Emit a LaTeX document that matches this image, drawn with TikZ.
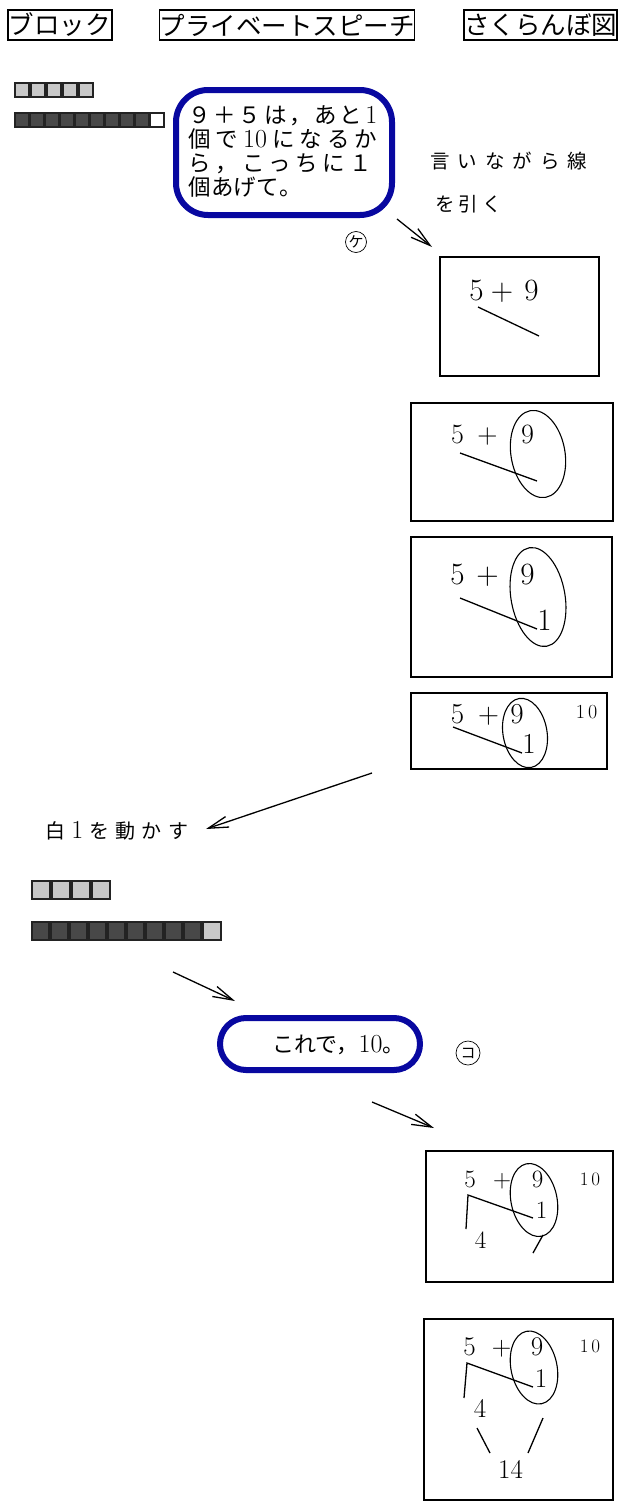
\documentclass[tikz,border=0pt]{standalone}
\usepackage{fontspec}
\newfontfamily\jp{Noto Sans CJK JP}
\usetikzlibrary{arrows.meta}
\definecolor{bblue}{RGB}{8,8,160}
\definecolor{lsq}{RGB}{200,200,200}
\definecolor{dsq}{RGB}{72,72,72}
\definecolor{sqline}{RGB}{35,35,35}
\newcommand\numr[1]{{\rmfamily\fontsize{26}{26}\selectfont #1}}
\tikzset{
  hdr/.style={draw, line width=1.5pt, inner sep=0pt, minimum height=30pt, font=\jp\fontsize{25.5}{25.5}\selectfont},
  bubble/.style={draw=bblue, line width=6pt, inner sep=0pt},
  btext/.style={inner sep=0pt, anchor=west, font=\jp\fontsize{22.5}{22.5}\selectfont},
  bpara/.style={inner sep=0pt, anchor=north west, align=left, font=\jp\fontsize{22.5}{24}\selectfont},
  note/.style={inner sep=0pt, anchor=west, font=\jp\fontsize{19.5}{19.5}\selectfont},
  arr/.style={line width=1.3pt, -{Straight Barb[length=20pt,width=11pt]}},
  cbox/.style={draw, line width=2.4pt, inner sep=0pt},
  stroke/.style={line width=1.3pt},
  oval/.style={line width=1.1pt},
  dg/.style={inner sep=0pt, anchor=base, font=\rmfamily\fontsize{#1}{#1}\selectfont},
  lsqst/.style={draw=sqline, fill=lsq, line width=1.4pt},
  dsqst/.style={draw=sqline, fill=dsq, line width=1.4pt},
  wsqst/.style={draw=sqline, fill=white, line width=1.4pt},
  circ/.style={circle, draw, line width=0.7pt, inner sep=0pt, minimum size=#1, font=\jp\fontsize{15}{15}\selectfont},
}
\begin{document}
\begin{tikzpicture}[x=1pt,y=-1pt]
\useasboundingbox (0,0) rectangle (619,1504);
% headers
\node[hdr, minimum width=104pt] (h1) at (60,25) {ブロック};
\node[hdr, minimum width=252pt] (h2) at (287,25) {プライベートスピーチ};
\node[hdr, minimum width=153pt] (h3) at (540.5,25) {さくらんぼ図};
% blocks top
\foreach \i in {0,...,4} \draw[lsqst] ({15+16*\i},83) rectangle ++(14,14);
\foreach \i in {0,...,8} \draw[dsqst] ({15+15*\i},113) rectangle ++(14,14);
\draw[wsqst] (150,113) rectangle ++(14,14);
% bubble 1
\node[bubble, rounded corners=32pt, minimum width=216pt, minimum height=125pt] (bub1) at (284,152.5) {};
\node[bpara] (t1) at (188,105) {%
\makebox[189pt][s]{９\hfil ＋\hfil ５\hfil は\hfil ，\hfil あ\hfil と\hfil \numr{1}}\\
\makebox[189pt][s]{個\hfil で\hfil \numr{10}\hfil に\hfil な\hfil る\hfil か}\\
\makebox[184pt][s]{ら\hfil ，\hfil こ\hfil っ\hfil ち\hfil に\hfil １}\\
\makebox[114pt][s]{個\hfil あ\hfil げ\hfil て\hfil 。}};
% notes
\node[note] (n1) at (430,161) {\makebox[157pt][s]{言\hfil い\hfil な\hfil が\hfil ら\hfil 線}};
\node[note] (n2) at (435,204) {\makebox[67pt][s]{を\hfil 引\hfil く}};
\node[circ=21pt] (ke) at (356,242) {ケ};
% arrow 1
\coordinate (a1s) at (397,219);
\coordinate (a1e) at (432,247);
\draw[arr] (a1s) -- (a1e);
% box 1
\node[cbox, minimum width=159pt, minimum height=119pt] (box1) at (519.5,316.5) {};
\node[dg=31] (b1a) at (476.5,300) {5};
\node[dg=31] (b1p) at (502,300) {+};
\node[dg=31] (b1b) at (531.5,300) {9};
\coordinate (b1l1) at (478,307); \coordinate (b1l2) at (539,336);
\draw[stroke] (b1l1) -- (b1l2);
% box 2
\node[cbox, minimum width=202pt, minimum height=118pt] (box2) at (512,462) {};
\node[dg=28] (b2a) at (457.5,443) {5};
\node[dg=28] (b2p) at (487.5,443) {+};
\node[dg=28] (b2b) at (527.5,443) {9};
\draw[oval, rotate around={10:(538,454)}] (538,454) ellipse (27pt and 44pt);
\coordinate (b2l1) at (460,453); \coordinate (b2l2) at (537,481);
\draw[stroke] (b2l1) -- (b2l2);
% box 3
\node[cbox, minimum width=201pt, minimum height=140pt] (box3) at (511.5,607) {};
\node[dg=31] (b3a) at (457.5,584) {5};
\node[dg=31] (b3p) at (487.5,584) {+};
\node[dg=31] (b3b) at (527.5,584) {9};
\node[dg=31] (b3c) at (544.5,630) {1};
\draw[oval, rotate around={10:(538,597)}] (538,597) ellipse (27pt and 50pt);
\coordinate (b3l1) at (460,598); \coordinate (b3l2) at (537,629);
\draw[stroke] (b3l1) -- (b3l2);
% box 4
\node[cbox, minimum width=196pt, minimum height=76pt] (box4) at (509,731) {};
\node[dg=29] (b4a) at (457.5,723) {5};
\node[dg=29] (b4p) at (488.5,723) {+};
\node[dg=29] (b4b) at (517,723) {9};
\node[dg=29] (b4c) at (529,753) {1};
\node[dg=20] (b4t) at (586.5,718) {1\kern3pt 0};
\draw[oval, rotate around={10:(525,733)}] (525,733) ellipse (22pt and 35pt);
\coordinate (b4l1) at (453,727); \coordinate (b4l2) at (522,753);
\draw[stroke] (b4l1) -- (b4l2);
% arrow 2 and label
\coordinate (a2s) at (372,773);
\coordinate (a2e) at (206,829);
\draw[arr] (a2s) -- (a2e);
\node[note, font=\jp\fontsize{20}{20}\selectfont] (n3) at (45,831) {\makebox[143pt][s]{白\hfil \numr{1}\hfil を\hfil 動\hfil か\hfil す}};
% blocks bottom
\foreach \i in {0,...,3} \draw[lsqst] ({32+20*\i},881) rectangle ++(18,18);
\foreach \i in {0,...,8} \draw[dsqst] ({32+19*\i},922) rectangle ++(17,18);
\draw[lsqst] (203,922) rectangle ++(18,18);
% arrow 3
\coordinate (a3s) at (173,972);
\coordinate (a3e) at (235,1001);
\draw[arr] (a3s) -- (a3e);
% bubble 2
\node[bubble, rounded corners=26pt, minimum width=200pt, minimum height=52pt] (bub2) at (320,1044) {};
\node[btext, font=\jp\fontsize{22}{22}\selectfont] (t5) at (272,1045) {これで，\numr{10}。};
\node[circ=24pt] (ko) at (468,1053) {コ};
% arrow 4
\coordinate (a4s) at (372,1102);
\coordinate (a4e) at (434,1128);
\draw[arr] (a4s) -- (a4e);
% box 5
\node[cbox, minimum width=187pt, minimum height=131pt] (box5) at (519.5,1216.5) {};
\node[dg=25] (b5a) at (470,1187) {5};
\node[dg=25] (b5p) at (502,1187) {+};
\node[dg=25] (b5b) at (537.5,1187) {9};
\node[dg=19] (b5t) at (590,1185) {1\kern3pt 0};
\node[dg=25] (b5c) at (541.5,1218) {1};
\node[dg=25] (b5d) at (480.5,1248) {4};
\draw[oval, rotate around={12:(534,1200)}] (534,1200) ellipse (23pt and 37pt);
\coordinate (b5p1) at (468,1195); \coordinate (b5p2) at (533,1218);
\coordinate (b5p3) at (466,1229);
\coordinate (b5p4) at (543,1235); \coordinate (b5p5) at (533,1253);
\draw[stroke] (b5p2) -- (b5p1) -- (b5p3);
\draw[stroke] (b5p4) -- (b5p5);
% box 6
\node[cbox, minimum width=189pt, minimum height=181pt] (box6) at (518.5,1409.5) {};
\node[dg=27] (b6a) at (469.5,1355) {5};
\node[dg=27] (b6p) at (501.5,1355) {+};
\node[dg=27] (b6b) at (537,1355) {9};
\node[dg=19] (b6t) at (590,1352) {1\kern3pt 0};
\node[dg=27] (b6c) at (541,1387) {1};
\node[dg=27] (b6d) at (480,1417) {4};
\node[dg=27] (b6e) at (510.5,1478) {14};
\draw[oval, rotate around={12:(534,1367.5)}] (534,1367.5) ellipse (23pt and 37pt);
\coordinate (b6p1) at (467,1363); \coordinate (b6p2) at (533,1387);
\coordinate (b6p3) at (464,1398);
\coordinate (b6p4) at (477,1428); \coordinate (b6p5) at (490,1453);
\coordinate (b6p6) at (543,1418); \coordinate (b6p7) at (528,1453);
\draw[stroke] (b6p2) -- (b6p1) -- (b6p3);
\draw[stroke] (b6p4) -- (b6p5);
\draw[stroke] (b6p6) -- (b6p7);
\end{tikzpicture}
\end{document}
